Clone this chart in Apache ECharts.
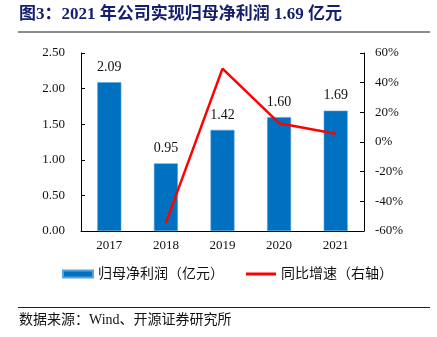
<!DOCTYPE html>
<html><head><meta charset="utf-8">
<script src="https://cdn.jsdelivr.net/npm/echarts@6/dist/echarts.min.js"></script>
<style>html,body{margin:0;padding:0;background:#fff}#c{width:437px;height:337px}</style>
</head><body><div id="c"></div>
<script>
const categories = ['2017','2018','2019','2020','2021'];
const profit = [2.09, 0.95, 1.42, 1.60, 1.69];
const growth = [null, -54.5, 49.5, 12.7, 5.6];
const leftTicks = {min: 0, max: 2.5, interval: 0.5};
const rightTicks = {min: -60, max: 60, interval: 20};
const titleText = '图3：2021 年公司实现归母净利润 1.69 亿元';
const sourceText = '数据来源：Wind、开源证券研究所';
const seriesNames = ['归母净利润（亿元）', '同比增速（右轴）'];

const serif = '"Liberation Serif","Noto Sans CJK SC",serif';
const chart = echarts.init(document.getElementById('c'));
chart.setOption({
  animation: false,
  graphic: [
    {type:'text', left:19, top:6, style:{text:titleText, font:'bold 17px ' + serif, fill:'#14206e'}},
    {type:'rect', shape:{x:18, y:31, width:412, height:2}, style:{fill:'#8c8c8c'}},
    {type:'rect', shape:{x:18, y:307, width:412, height:1}, style:{fill:'#222'}},
    {type:'text', left:19, top:313, style:{text:sourceText, font:'14px ' + serif, fill:'#111'}}
  ],
  legend: {
    top: 262, left: 57, itemGap: 22,
    textStyle:{fontFamily:serif, fontSize:14, color:'#111'},
    data: [
      {name: seriesNames[0], icon:'rect', itemStyle:{color:'#0070c0'}},
      {name: seriesNames[1], icon:'path://M0,0 L10,0 L10,1 L0,1 Z', itemStyle:{color:'#ff0000'}}
    ],
    itemWidth: 30, itemHeight: 7
  },
  grid: {left: 81, right: 73, top: 53, bottom: 106},
  xAxis: {
    type:'category', data: categories,
    axisLine:{lineStyle:{color:'#000'}},
    axisTick:{inside:true, length:4, lineStyle:{color:'#000'}},
    axisLabel:{fontFamily:serif, fontSize:13, color:'#111', margin:8}
  },
  yAxis: [
    {type:'value', min:leftTicks.min, max:leftTicks.max, interval:leftTicks.interval,
     axisLine:{show:true, lineStyle:{color:'#000'}},
     axisTick:{show:true, inside:true, length:4, lineStyle:{color:'#000'}},
     splitLine:{show:false},
     axisLabel:{fontFamily:serif, fontSize:13, color:'#111', margin:16, formatter:v=>v.toFixed(2)}},
    {type:'value', min:rightTicks.min, max:rightTicks.max, interval:rightTicks.interval,
     axisLine:{show:true, lineStyle:{color:'#000'}},
     axisTick:{show:true, inside:true, length:4, lineStyle:{color:'#000'}},
     splitLine:{show:false},
     axisLabel:{fontFamily:serif, fontSize:13, color:'#111', margin:11, formatter:v=>v+'%'}}
  ],
  series: [
    {name: seriesNames[0], type:'bar', data: profit, barWidth:24,
     itemStyle:{color:'#0070c0', borderColor:'#5aa0dc', borderWidth:0.6},
     label:{show:true, position:'top', distance:8, fontFamily:serif, fontSize:14, color:'#111', formatter:p=>p.value.toFixed(2)}},
    {name: seriesNames[1], type:'line', yAxisIndex:1, data: growth, symbol:'none',
     lineStyle:{color:'#ff0000', width:2.5}, itemStyle:{color:'#ff0000'}}
  ]
});
</script></body></html>
